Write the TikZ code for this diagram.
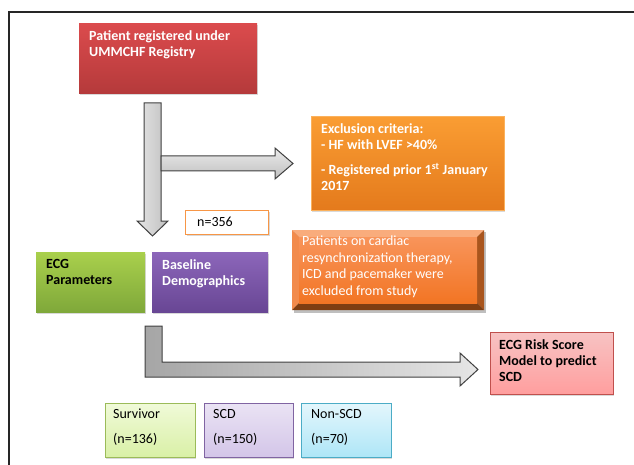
\documentclass[tikz,border=0pt]{standalone}
\usepackage{fontspec}
\setmainfont{Carlito}
\usetikzlibrary{shadows}
\definecolor{regTop}{HTML}{DB4B4D}
\definecolor{regBot}{HTML}{B53A3B}
\definecolor{excTop}{HTML}{FA9D33}
\definecolor{excBot}{HTML}{E47A1C}
\definecolor{patTop}{HTML}{F8945A}
\definecolor{patBot}{HTML}{F27524}
\definecolor{patLight}{HTML}{F9AC7C}
\definecolor{patLeft}{HTML}{F28B4C}
\definecolor{patRight}{HTML}{A9551D}
\definecolor{patDark}{HTML}{7F3E12}
\definecolor{ecgTop}{HTML}{A9D04C}
\definecolor{ecgBot}{HTML}{7FA83A}
\definecolor{basTop}{HTML}{8C66BA}
\definecolor{basBot}{HTML}{684694}
\definecolor{riskTop}{HTML}{F7C3C3}
\definecolor{riskBot}{HTML}{FF9E9E}
\definecolor{riskLine}{HTML}{C0504D}
\definecolor{nOrange}{HTML}{F79646}
\definecolor{survTop}{HTML}{F0FAD8}
\definecolor{survBot}{HTML}{D9F0A6}
\definecolor{survLine}{HTML}{9BBB59}
\definecolor{scdTop}{HTML}{EAE3F4}
\definecolor{scdBot}{HTML}{D3C5E8}
\definecolor{scdLine}{HTML}{8064A2}
\definecolor{nonTop}{HTML}{E3F6FC}
\definecolor{nonBot}{HTML}{AEE6F7}
\definecolor{nonLine}{HTML}{4BACC6}
\begin{document}
\begin{tikzpicture}[x=1pt,y=-1pt,
  box/.style={rectangle, inner sep=0pt, anchor=north west,
    drop shadow={opacity=0.3, shadow xshift=1pt, shadow yshift=-1.5pt}},
  txt/.style={anchor=north west, inner sep=0pt, align=left,
    font=\fontsize{14}{16.4}\selectfont},
  btxt/.style={txt, font=\fontsize{14}{16.4}\selectfont\bfseries},
  blockarrow/.style={draw=black!75, line width=1pt, line join=miter},
]
\useasboundingbox (0,0) rectangle (634,465);
% frame
\draw[line width=1.2pt, black!85] (9,465) -- (9,12) -- (634,12);

% registry box
\node[box, minimum width=178pt, minimum height=70pt, top color=regTop, bottom color=regBot] (reg) at (79,23) {};
\node[btxt, text=white] (regt) at (89,30) {Patient registered under\\UMMCHF Registry};

% exclusion criteria box
\node[box, minimum width=193pt, minimum height=94pt, top color=excTop, bottom color=excBot, draw=excTop!80!white, line width=0.5pt] (exc) at (311,116) {};
\node[btxt, text=white] (exct) at (321,123) {Exclusion criteria:\\- HF with LVEF \textgreater40\%\\[8.5pt]- Registered prior 1\textsuperscript{st} January\\2017};

% n=356 box
\node[box, drop shadow={opacity=0}, minimum width=83pt, minimum height=24pt, draw=nOrange, line width=1.2pt, fill=white] (n356) at (185,210) {};
\node[txt, anchor=west] (n356t) at (197,222) {n=356};

% bevelled patients box
\coordinate (po1) at (292,230);
\coordinate (po2) at (484,310);
\coordinate (pi1) at (299,237);
\coordinate (pi2) at (477,303);
\fill[black, opacity=0.25] (294,232) rectangle (486,313);
\fill[patLight] (po1) -- (484,230) -- (477,237) -- (pi1) -- cycle;
\fill[patLeft] (po1) -- (pi1) -- (299,303) -- (292,310) -- cycle;
\fill[patRight] (484,230) -- (po2) -- (477,303) -- (477,237) -- cycle;
\fill[patDark] (292,310) -- (po2) -- (477,303) -- (299,303) -- cycle;
\node[rectangle, inner sep=0pt, anchor=north west, minimum width=178pt, minimum height=66pt, top color=patTop, bottom color=patBot] (pat) at (pi1) {};
\node[txt, text=white] (patt) at (302,236) {Patients on cardiac\\resynchronization therapy,\\ICD and pacemaker were\\excluded from study};

% ECG parameters
\node[box, minimum width=109pt, minimum height=60pt, top color=ecgTop, bottom color=ecgBot] (ecg) at (36,252) {};
\node[btxt, text=black] (ecgt) at (46,259) {ECG\\Parameters};

% Baseline demographics
\node[box, minimum width=116pt, minimum height=60pt, top color=basTop, bottom color=basBot] (bas) at (152,252) {};
\node[btxt, text=white] (bast) at (162,259) {Baseline\\Demographics};

% ECG risk score
\node[box, minimum width=123pt, minimum height=62pt, top color=riskTop, bottom color=riskBot, draw=riskLine, line width=0.8pt] (risk) at (490,332) {};
\node[btxt, text=black] (riskt) at (499,339) {ECG Risk Score\\Model to predict\\SCD};

% outcome boxes
\node[box, minimum width=90pt, minimum height=54pt, top color=survTop, bottom color=survBot, draw=survLine, line width=0.8pt] (surv) at (105,403) {};
\node[txt] (survt) at (113,409) {Survivor\\[8.5pt](n=136)};
\node[box, minimum width=89pt, minimum height=54pt, top color=scdTop, bottom color=scdBot, draw=scdLine, line width=0.8pt] (scd) at (204,403) {};
\node[txt] (scdt) at (213,409) {SCD\\[8.5pt](n=150)};
\node[box, minimum width=90pt, minimum height=54pt, top color=nonTop, bottom color=nonBot, draw=nonLine, line width=0.8pt] (non) at (301,403) {};
\node[txt] (nont) at (311,409) {Non-SCD\\[8.5pt](n=70)};

% block arrows
\draw[blockarrow, left color=black!10, right color=black!25]
  (144,103) -- (161,103) -- (161,221) -- (168,221) -- (152.5,236) -- (137,221) -- (144,221) -- cycle;
\draw[blockarrow, top color=black!8, bottom color=black!25]
  (161,156) -- (275,156) -- (275,148) -- (293,163.5) -- (275,179) -- (275,171) -- (161,171) -- cycle;
\draw[blockarrow, left color=black!35, right color=black!10]
  (145,326) -- (162,326) -- (162,362) -- (460,362) -- (460,353) -- (478,369.5) -- (460,386) -- (460,377) -- (145,377) -- cycle;
\end{tikzpicture}
\end{document}
